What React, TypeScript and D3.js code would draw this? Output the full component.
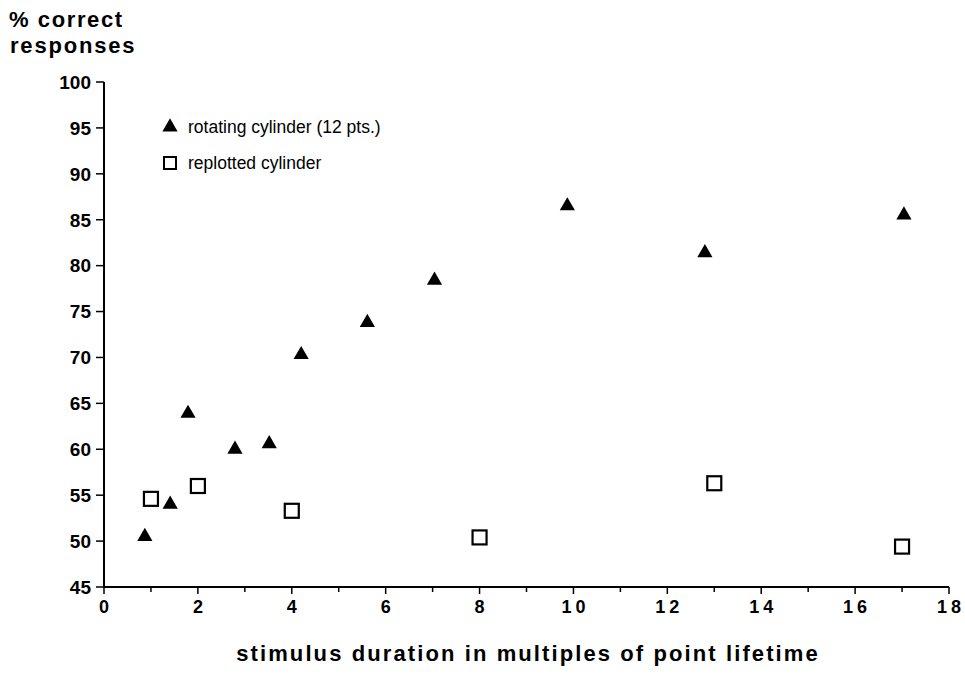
import React from "react";
import * as d3 from "d3";

const rotatingX = [0.87, 1.41, 1.79, 2.79, 3.52, 4.2, 5.61, 7.04, 9.87, 12.8, 17.04];
const rotatingY = [50.5, 54.0, 63.9, 60.0, 60.6, 70.3, 73.8, 78.4, 86.5, 81.4, 85.5];
const replottedX = [1, 2, 4, 8, 13, 17];
const replottedY = [54.6, 56.0, 53.3, 50.4, 56.3, 49.4];
const xTicks = [0, 2, 4, 6, 8, 10, 12, 14, 16, 18];
const xMinorTicks = [1, 3, 5, 7, 9, 11, 13, 15, 17];
const yTicks = [45, 50, 55, 60, 65, 70, 75, 80, 85, 90, 95, 100];

const font = "'Liberation Sans', Arial, sans-serif";

export default function App() {
  const width = 965;
  const height = 674;
  const x = d3.scaleLinear().domain([0, 18]).range([104, 949]);
  const y = d3.scaleLinear().domain([45, 100]).range([587, 82]);
  const tri = d3.symbol().type(d3.symbolTriangle).size(100)();
  const tickSpacing = 4;

  return (
    <svg
      width={width}
      height={height}
      style={{ position: "absolute", left: 0, top: 0, background: "#fff" }}
    >
      <g fontFamily={font} fill="#000">
        <text x={9} y={27} fontSize={22} fontWeight="bold" letterSpacing={1.6}>
          % correct
        </text>
        <text x={10} y={53} fontSize={22} fontWeight="bold" letterSpacing={1.8}>
          responses
        </text>

        {/* y axis */}
        <line x1={x(0)} x2={x(0)} y1={y(100)} y2={y(45)} stroke="#000" strokeWidth={2} />
        {yTicks.map((t) => (
          <g key={"y" + t}>
            <line x1={x(0) - 8} x2={x(0)} y1={y(t)} y2={y(t)} stroke="#000" strokeWidth={1.5} />
            <text
              x={x(0) - 13}
              y={y(t)}
              dy="0.36em"
              textAnchor="end"
              fontSize={19}
              fontWeight="bold"
            >
              {t}
            </text>
          </g>
        ))}

        {/* x axis */}
        <line x1={x(0)} x2={x(18)} y1={y(45)} y2={y(45)} stroke="#000" strokeWidth={2} />
        {xTicks.map((t) => (
          <g key={"x" + t}>
            <line x1={x(t)} x2={x(t)} y1={y(45)} y2={y(45) + 7} stroke="#000" strokeWidth={1.5} />
            <text
              x={x(t) + (t >= 10 ? tickSpacing / 2 : 0)}
              y={y(45) + 26}
              textAnchor="middle"
              fontSize={18}
              fontWeight="bold"
              letterSpacing={t >= 10 ? tickSpacing : 0}
            >
              {t}
            </text>
          </g>
        ))}
        {xMinorTicks.map((t) => (
          <line
            key={"m" + t}
            x1={x(t)}
            x2={x(t)}
            y1={y(45)}
            y2={y(45) + 5}
            stroke="#000"
            strokeWidth={1.5}
          />
        ))}
        <text x={528} y={661} textAnchor="middle" fontSize={22} fontWeight="bold" letterSpacing={2.1}>
          stimulus duration in multiples of point lifetime
        </text>

        {/* legend */}
        <path d={tri} transform="translate(170,127)" fill="#000" />
        <text x={188} y={127} dy="0.36em" fontSize={17.5}>
          rotating cylinder (12 pts.)
        </text>
        <rect x={164} y={157} width={12} height={12} fill="none" stroke="#000" strokeWidth={2} />
        <text x={188} y={163} dy="0.36em" fontSize={17.5}>
          replotted cylinder
        </text>

        {/* data */}
        {rotatingX.map((v, i) => (
          <path
            key={"r" + i}
            d={tri}
            transform={`translate(${x(v)},${y(rotatingY[i])})`}
            fill="#000"
          />
        ))}
        {replottedX.map((v, i) => (
          <rect
            key={"s" + i}
            x={x(v) - 7}
            y={y(replottedY[i]) - 7}
            width={14}
            height={14}
            fill="#fff"
            stroke="#000"
            strokeWidth={2.2}
          />
        ))}
      </g>
    </svg>
  );
}
